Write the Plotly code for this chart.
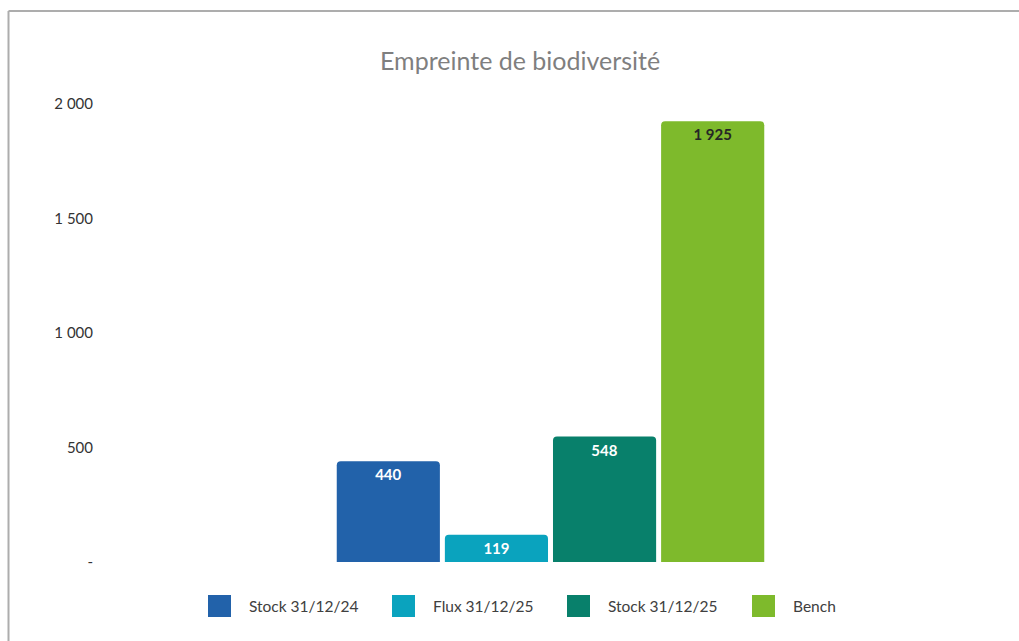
import plotly.graph_objects as go

# Chart data
series_names = ["Stock 31/12/24", "Flux 31/12/25", "Stock 31/12/25", "Bench"]
series_values = [440, 119, 548, 1925]
series_colors = ["#2262AA", "#0AA3BE", "#08806B", "#7EBA2C"]
label_colors = ["#FFFFFF", "#FFFFFF", "#FFFFFF", "#262626"]
tick_values = [0, 500, 1000, 1500, 2000]
tick_labels = ["-", "500", "1 000", "1 500", "2 000"]
title_text = "Empreinte de biodiversité"

W, H = 1019, 641
ML, MR, MT, MB = 100, 18, 104, 79
PW, PH = W - ML - MR, H - MT - MB


def px_x(px):
    return (px - ML) / PW


def px_y(py):
    return (H - MB - py) / PH


def fmt(v):
    return f"{v:,}".replace(",", " ")


FONT = "Lato"

fig = go.Figure()
for name, val, col, lc in zip(series_names, series_values, series_colors, label_colors):
    fig.add_trace(go.Bar(
        x=[""], y=[val], name=name,
        marker=dict(color=col, cornerradius=4, line=dict(width=0)),
        text=[fmt(val)], textposition="inside", insidetextanchor="end",
        constraintext="none",
        textfont=dict(family=FONT, size=15, color=lc, weight=700),
        showlegend=False,
    ))

shapes = [
    # outer frame (top and left edges)
    dict(type="line", xref="paper", yref="paper", x0=px_x(8.5), x1=px_x(1030),
         y0=px_y(11), y1=px_y(11), line=dict(color="#ADADAD", width=2)),
    dict(type="line", xref="paper", yref="paper", x0=px_x(8.5), x1=px_x(8.5),
         y0=px_y(11), y1=px_y(660), line=dict(color="#ADADAD", width=2)),
]
annotations = [
    dict(text=title_text, xref="paper", yref="paper", x=px_x(520), y=px_y(60),
         xanchor="center", yanchor="middle", showarrow=False,
         font=dict(family=FONT, size=25, color="#7F7F7F")),
]

# Legend drawn as swatches with labels below the plot
legend_x = [208, 392, 567, 752]
for lx, name, col in zip(legend_x, series_names, series_colors):
    shapes.append(dict(type="rect", xref="paper", yref="paper",
                       x0=px_x(lx), x1=px_x(lx + 23), y0=px_y(617), y1=px_y(595),
                       fillcolor=col, line=dict(width=0), layer="above"))
    annotations.append(dict(text=name, xref="paper", yref="paper",
                            x=px_x(lx + 39), y=px_y(606), xanchor="left", yanchor="middle",
                            showarrow=False,
                            font=dict(family=FONT, size=15.5, color="#404040")))

fig.update_layout(
    width=W, height=H,
    margin=dict(l=ML, r=MR, t=MT, b=MB),
    paper_bgcolor="white", plot_bgcolor="white",
    barmode="group", bargap=0.52, bargroupgap=0.046,
    showlegend=False,
    shapes=shapes, annotations=annotations,
    xaxis=dict(showticklabels=False, showgrid=False, zeroline=False, showline=False,
               ticks=""),
    yaxis=dict(range=[0, 2000], tickvals=tick_values, ticktext=tick_labels,
               showgrid=False, zeroline=False, showline=False, ticks="",
               ticklabelstandoff=6,
               tickfont=dict(family=FONT, size=15, color="#333333", weight=400)),
)

fig.write_html("out.html")
